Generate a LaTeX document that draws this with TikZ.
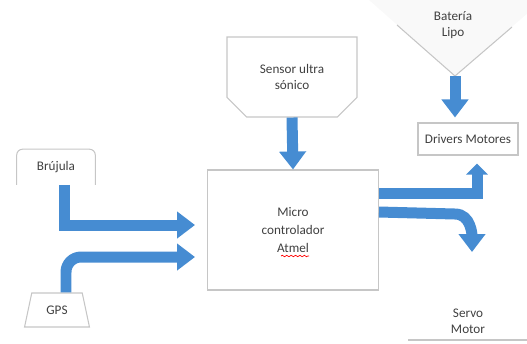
\documentclass[tikz,border=0pt]{standalone}
\usepackage{fontspec}
\setmainfont{Carlito}
\usetikzlibrary{arrows.meta,shapes.misc,shapes.geometric,decorations.pathmorphing}
\begin{document}
\begin{tikzpicture}[x=0.02cm, y=-0.02cm,
    every node/.style={font=\fontsize{7.5}{9}\selectfont, text=black!75, align=center},
    outline/.style={draw=gray!45, line width=0.6pt},
    blockarrow/.style={draw=arrowblue, line width=0.22cm, -{Triangle[length=0.36cm, width=0.52cm]}},
    smallhead/.style={-{Triangle[length=0.22cm, width=0.42cm]}}]
        \definecolor{arrowblue}{RGB}{70, 140, 210}
        \useasboundingbox (0,0) rectangle (527,343);

        \fill[gray!5] (369,0) -- (543,0) -- (455,76) -- cycle;
        \draw[outline] (397,25) -- (455,76) -- (512,27);
        \coordinate (apex) at (455,76);
        \node (bateria) at (453,25) {Batería\\Lipo};

        \node[outline, chamfered rectangle, chamfered rectangle corners={south west, south east},
            chamfered rectangle xsep=0.28cm, minimum width=2.6cm, minimum height=1.6cm] (sensor) at (292,77) {Sensor ultra\\sónico};

        \node[minimum width=1.56cm, minimum height=0.7cm] (brujula) at (56,167) {Brújula};
        \draw[outline, rounded corners=0.12cm] (brujula.south west) -- (brujula.north west) -- (brujula.north east) -- (brujula.south east);

        \node[outline, trapezium, trapezium left angle=77, trapezium right angle=77, trapezium stretches=true,
            minimum width=1.3cm, minimum height=0.68cm] (gps) at (57,310) {GPS};

        \node[outline, minimum width=3.42cm, minimum height=2.4cm, font=\fontsize{7.5}{10}\selectfont] (micro) at (293,230) {Micro\\controlador\\Atmel};
        \draw[red, decorate, decoration={snake, amplitude=0.4pt, segment length=2.5pt}] (281,256) -- ++(28,0);

        \node[outline, minimum width=2cm, minimum height=0.64cm] (drivers) at (468,139) {Drivers Motores};
        \node (servo) at (468,321) {Servo\\Motor};
        \draw[outline] (408,340) -- (527,340);

        \coordinate (brin) at (195,225);
        \coordinate (gpsin) at (195,257);
        \coordinate (servoin) at (472,252);

        \draw[blockarrow] (sensor.south) -- (micro.north);
        \draw[blockarrow] (apex) -- ([yshift=0.1cm]drivers.north -| apex);
        \draw[blockarrow] ([xshift=0.18cm]brujula.south) |- (brin);
        \draw[blockarrow, rounded corners=0.3cm] ([xshift=0.18cm]gps.north) |- (gpsin);
        \draw[blockarrow, smallhead] (micro.east |- 0,193) -| ([xshift=0.18cm, yshift=-0.16cm]drivers.south);
        \draw[blockarrow] (micro.east |- 0,212) -- (455,214) to[out=0, in=90] (servoin);
    \end{tikzpicture}
\end{document}
